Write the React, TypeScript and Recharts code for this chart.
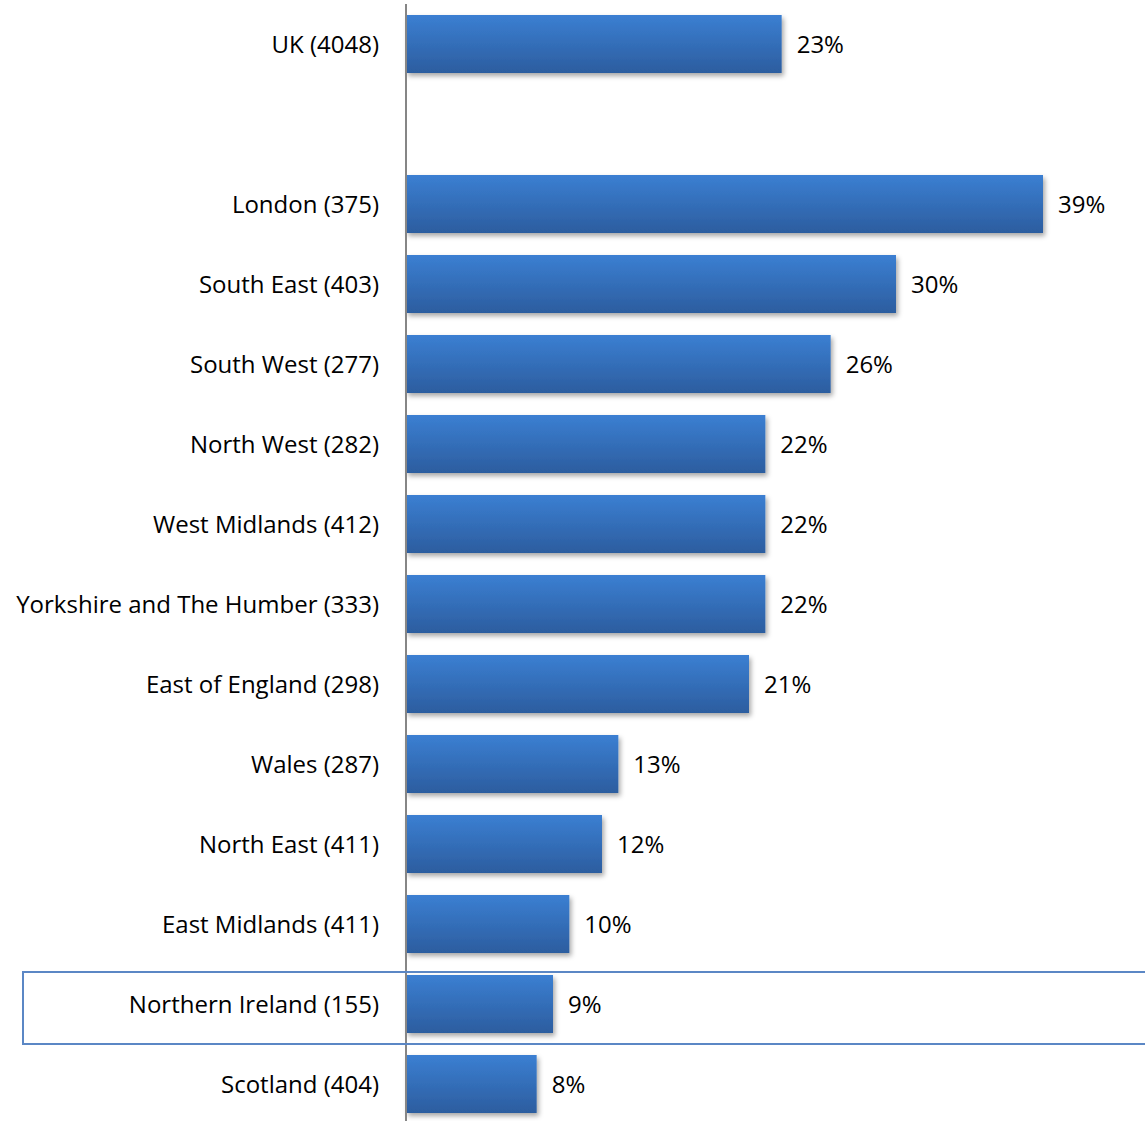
import { BarChart, Bar, XAxis, YAxis, LabelList } from 'recharts';

// regions with sample size, blank slot separates UK from the regions
const regions = [
  'UK (4048)',
  ' ',
  'London (375)',
  'South East (403)',
  'South West (277)',
  'North West (282)',
  'West Midlands (412)',
  'Yorkshire and The Humber (333)',
  'East of England (298)',
  'Wales (287)',
  'North East (411)',
  'East Midlands (411)',
  'Northern Ireland (155)',
  'Scotland (404)',
];

const shares = [23, null, 39, 30, 26, 22, 22, 22, 21, 13, 12, 10, 9, 8];

const data = regions.map((name, i) => ({ name, value: shares[i] }));

const FONT = '"Open Sans", "Noto Sans", sans-serif';

export default function App() {
  return (
    <div style={{ position: 'absolute', left: 0, top: 0, width: 1145, height: 1121, overflow: 'hidden', background: '#fff' }}>
      <BarChart
        width={1145}
        height={1124}
        data={data}
        layout="vertical"
        margin={{ top: 4, right: 4, bottom: 0, left: 0 }}
        barSize={58}
      >
        <defs>
          <linearGradient id="barFill" x1="0" y1="0" x2="0" y2="1">
            <stop offset="0%" stopColor="#3b7fd2" />
            <stop offset="100%" stopColor="#2c5d9f" />
          </linearGradient>
          <filter id="barShadow" x="-5%" y="-10%" width="115%" height="140%">
            <feDropShadow dx="2" dy="3" stdDeviation="2.5" floodColor="#000" floodOpacity="0.35" />
          </filter>
        </defs>
        <XAxis type="number" domain={[0, 45]} hide />
        <YAxis
          type="category"
          dataKey="name"
          width={406}
          axisLine={{ stroke: '#868686', strokeWidth: 2 }}
          tickLine={false}
          tickSize={0}
          tickMargin={27}
          interval={0}
          tick={{ fill: '#000', fontSize: 24, fontFamily: FONT }}
        />
        <Bar dataKey="value" fill="url(#barFill)" filter="url(#barShadow)" isAnimationActive={false}>
          <LabelList
            dataKey="value"
            position="right"
            offset={15}
            formatter={(v: unknown) => (v == null ? '' : `${v}%`)}
            style={{ fill: '#000', fontSize: 24, fontFamily: FONT }}
          />
        </Bar>
      </BarChart>
      <div
        style={{
          position: 'absolute',
          left: 22,
          top: 971,
          width: 1140,
          height: 70,
          border: '2px solid #5b87c5',
          pointerEvents: 'none',
        }}
      />
    </div>
  );
}
